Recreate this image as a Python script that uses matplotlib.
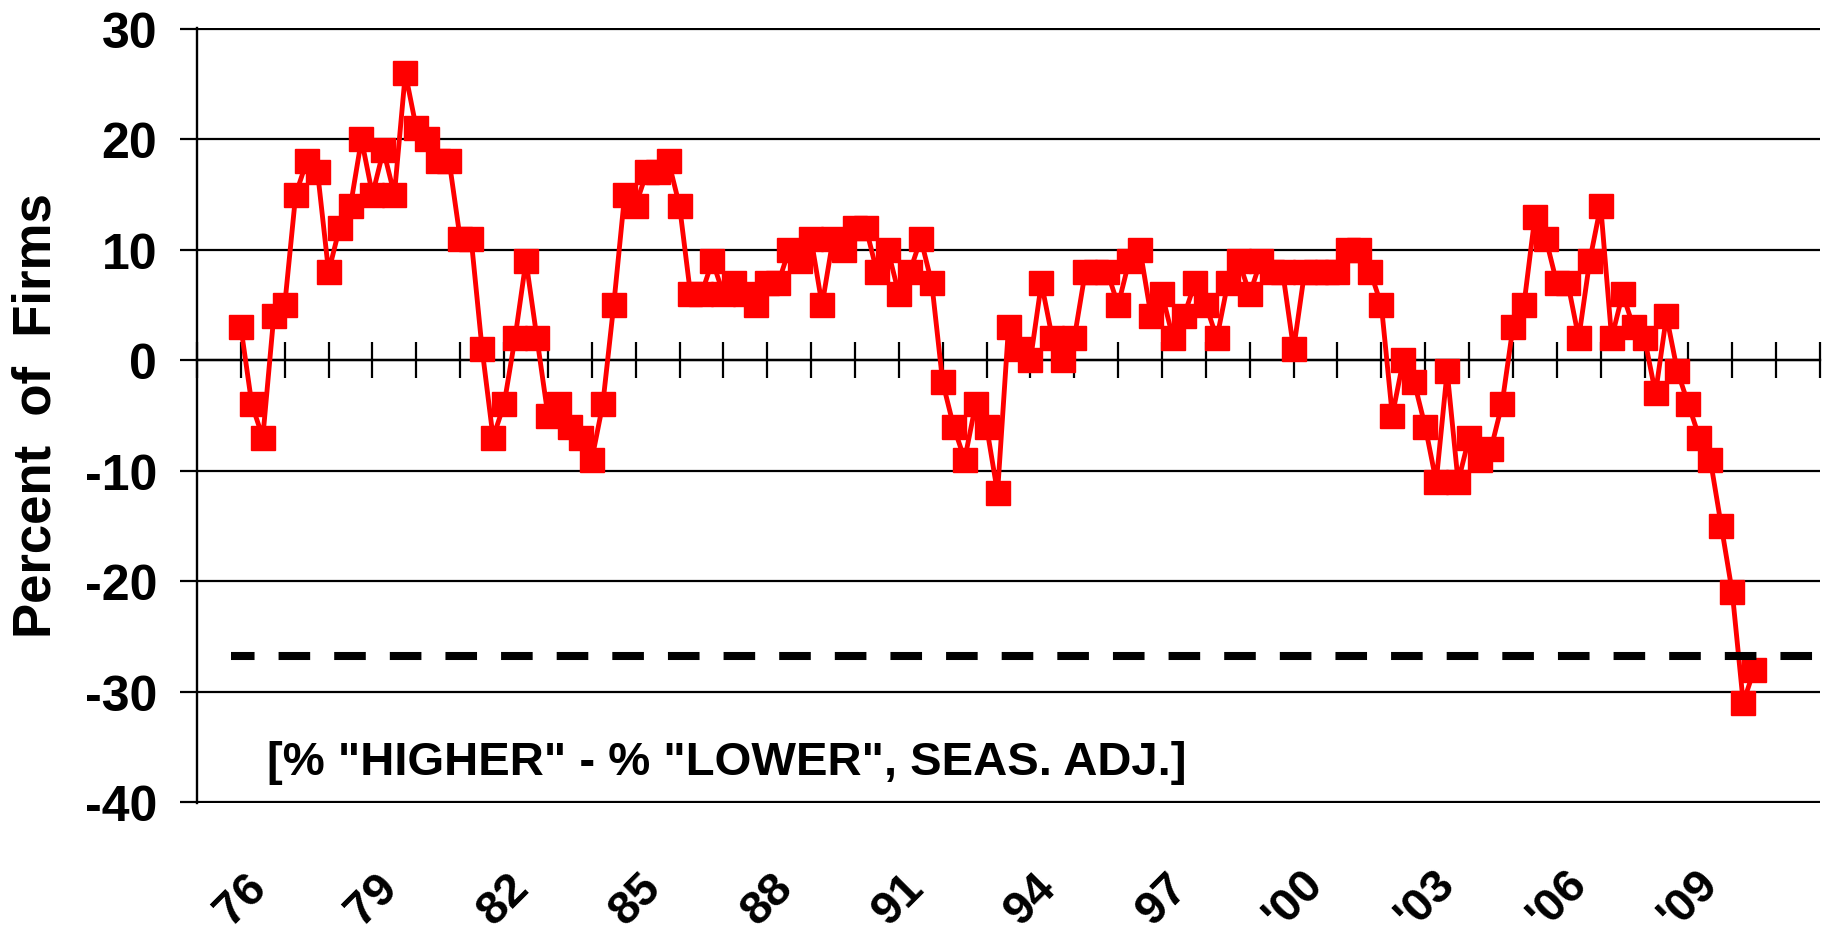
import numpy as np
import matplotlib
matplotlib.use("Agg")
import matplotlib.pyplot as plt
from matplotlib import font_manager

# ---- data (quarterly, first point = 1976) ----
values = [3, -4, -7, 4, 5, 15, 18, 17, 8, 12,
          14, 20, 15, 19, 15, 26, 21, 20, 18, 18,
          11, 11, 1, -7, -4, 2, 9, 2, -5, -4,
          -6, -7, -9, -4, 5, 15, 14, 17, 17, 18,
          14, 6, 6, 9, 6, 7, 6, 5, 7, 7,
          10, 9, 11, 5, 11, 10, 12, 12, 8, 10,
          6, 8, 11, 7, -2, -6, -9, -4, -6, -12,
          3, 1, 0, 7, 2, 0, 2, 8, 8, 8,
          5, 9, 10, 4, 6, 2, 4, 7, 5, 2,
          7, 9, 6, 9, 8, 8, 1, 8, 8, 8,
          8, 10, 10, 8, 5, -5, 0, -2, -6, -11,
          -1, -11, -7, -9, -8, -4, 3, 5, 13, 11,
          7, 7, 2, 9, 14, 2, 6, 3, 2, -3,
          4, -1, -4, -7, -9, -15, -21, -31, -28]
reference_level = -26.8
x_labels = ["76", "79", "82", "85", "88", "91", "94", "97", "'00", "'03", "'06", "'09"]
label_quarters = [0, 12, 24, 36, 48, 60, 72, 84, 96, 108, 120, 132]
y_ticks = [-40, -30, -20, -10, 0, 10, 20, 30]
y_title = "Percent  of  Firms"
note = '[% "HIGHER" - % "LOWER", SEAS. ADJ.]'

names = {f.name for f in font_manager.fontManager.ttflist}
base_font = "Liberation Sans" if "Liberation Sans" in names else "DejaVu Sans"
narrow_font = "Liberation Sans Narrow" if "Liberation Sans Narrow" in names else base_font
note_size = 40 if narrow_font != base_font else 34

plt.rcParams["font.family"] = [base_font, "DejaVu Sans"]
plt.rcParams["lines.scale_dashes"] = False

W, H = 1834, 945
fig = plt.figure(figsize=(W / 100, H / 100), dpi=100)
ax = fig.add_axes([197 / W, 1 - 804 / H, (1820 - 197) / W, (804 - 29) / H])

xq = np.arange(len(values))
ax.plot(xq, values, color="#FF0000", lw=3.5, marker="s", ms=17.5,
        mfc="#FF0000", mec="#FF0000", mew=1, zorder=4, clip_on=False)

ax.plot([-0.9, 144], [reference_level, reference_level], color="black", lw=5.8,
        linestyle=(5.8, (22.75, 17.3)), zorder=5, solid_capstyle="butt")

ax.set_xlim(-4, 144)
ax.set_ylim(-40.08, 30.08)

ax.set_yticks(y_ticks)
ax.set_yticklabels([str(v) for v in y_ticks], fontsize=36, fontweight="bold")
ax.yaxis.grid(True, color="black", lw=1.6)
ax.tick_params(axis="y", direction="out", length=12.2, width=1.6, pad=16.5, color="black")

ax.set_xticks(np.arange(-4, 145, 4))
ax.tick_params(axis="x", direction="inout", length=26, width=1.6,
               labelbottom=False, color="black")

for s in ["top", "right"]:
    ax.spines[s].set_visible(False)
ax.spines["left"].set_linewidth(1.7)
ax.spines["bottom"].set_position(("data", 0))
ax.spines["bottom"].set_linewidth(1.7)

sec = ax.secondary_xaxis(0.0)
sec.set_xticks(label_quarters)
sec.set_xticklabels(x_labels, fontsize=34, fontweight="bold", rotation=45,
                    ha="center", va="center", rotation_mode="anchor")
sec.tick_params(length=0, pad=69)
sec.spines["bottom"].set_visible(False)

ax.text(0.0431, 0.0374, note, transform=ax.transAxes, ha="left", va="baseline",
        fontsize=note_size, fontweight="bold", family=[narrow_font, "DejaVu Sans"])

fig.text(37 / W, 1 - 415.5 / H, y_title, rotation=90, ha="center", va="center",
         fontsize=38, fontweight="bold")

fig.savefig("out.png", dpi=100)
